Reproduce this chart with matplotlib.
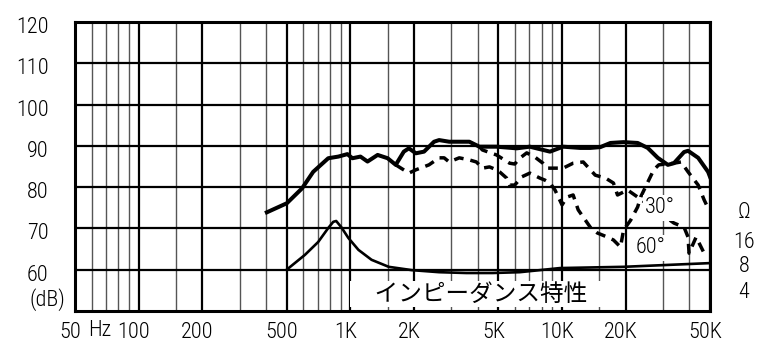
import matplotlib
matplotlib.use("Agg")
from matplotlib import pyplot as plt
from matplotlib import transforms, font_manager
from matplotlib.ticker import NullFormatter

installed = set(f.name for f in font_manager.fontManager.ttflist)
narrow = [n for n in ['Arial Narrow', 'Liberation Sans Narrow', 'Roboto Condensed',
                      'Archivo Narrow', 'PT Sans Narrow', 'Asap Condensed', 'Liberation Sans']
          if n in installed]
plt.rcParams['font.family'] = narrow[:1] + ['DejaVu Sans']
plt.rcParams['font.weight'] = 'light'

# on-axis response (solid)
freq_0 = [403, 501, 591, 667, 786, 877, 968, 1022, 1116, 1205, 1345, 1500, 1638,
          1788, 1889, 2040, 2228, 2485, 2625, 2929, 3647, 4070, 4900, 6105, 7045,
          8770, 10115, 12180, 13590, 15170, 16930, 19520, 22760, 25400, 28330,
          31620, 33770, 37700, 39380, 43970, 48980, 50000]
db_0 = [73.9, 76.1, 79.7, 83.7, 87.0, 87.4, 88.0, 87.0, 87.4, 86.2, 87.8, 87.0, 85.4,
        88.6, 89.4, 88.2, 88.6, 91.0, 91.4, 91.0, 91.0, 89.8, 89.8, 89.4, 89.8,
        88.6, 89.8, 89.5, 89.5, 89.7, 90.7, 90.9, 90.7, 89.5, 87.1,
        85.4, 85.8, 88.5, 88.8, 87.1, 83.7, 82.5]

# 30 deg response (dashed)
freq_30 = [4070, 4206, 4900, 5654, 5975, 6310, 6810, 7435, 8120, 8490, 9465, 10115,
           11280, 12590, 14350, 16030, 17490, 18280, 20400, 22760, 33770, 37700,
           39380, 39810, 42990, 46920]
db_30 = [89.8, 89.0, 87.8, 85.8, 85.6, 87.0, 88.3, 87.3, 85.8, 84.6, 84.6, 84.6,
         85.8, 86.1, 82.9, 82.2, 81.0, 78.1, 79.3, 77.6, 71.3, 70.3,
         67.9, 64.0, 67.9, 64.0]

# 60 deg response (dashed)
freq_60 = [1638, 1889, 2040, 2351, 2625, 2773, 2929, 3268, 3647, 3938, 4206, 4542,
           4900, 5070, 5470, 5654, 5975, 6453, 7045, 7853, 8300, 8770, 9262, 10000,
           10560, 11280, 11920, 13590, 14680, 16380, 17490, 18890, 19520, 21090,
           22760, 23510, 27110, 28640, 33770, 36490, 39380, 43970, 46920, 48980]
db_60 = [85.4, 83.4, 84.2, 85.4, 87.1, 87.1, 86.1, 87.1, 86.6, 86.1, 84.6, 84.9,
         84.2, 83.7, 82.2, 80.5, 80.5, 82.5, 83.4, 82.2, 81.7, 81.0, 79.3, 75.7,
         77.6, 78.1, 74.5, 70.3, 68.9, 67.9, 67.2, 65.5, 69.6, 72.0,
         75.2, 77.6, 84.2, 85.4, 85.8, 86.1, 83.7, 80.5, 76.9, 74.9]

# impedance curve (plotted on the dB scale)
freq_imp = [500, 610, 704, 786, 830, 857, 906, 978, 1092, 1259, 1517, 1951, 2625,
            3530, 4690, 6310, 9780, 19520, 50000]
db_imp = [60.0, 63.6, 66.7, 70.1, 71.6, 71.8, 70.3, 67.7, 64.8, 62.4, 60.7, 59.9, 59.4,
          59.2, 59.2, 59.4, 60.4, 60.7, 61.6]

x_major = [50, 100, 200, 500, 1000, 2000, 5000, 10000, 20000, 50000]
x_labels = ['50', '100', '200', '500', '1K', '2K', '5K', '10K', '20K', '50K']
x_minor = [60, 70, 80, 90, 150, 300, 400, 600, 700, 800, 900, 1500, 3000, 4000,
           6000, 7000, 8000, 9000, 15000, 30000, 40000]
y_ticks = [60, 70, 80, 90, 100, 110, 120]
ohm_labels = ['Ω', '16', '8', '4']

fig = plt.figure(figsize=(7.72, 3.52), dpi=100)
ax = fig.add_axes([75 / 772, 41 / 352, 635 / 772, 289 / 352])
ax.set_xscale('log')
ax.set_xlim(50, 50000)
ax.set_ylim(50, 120)

ax.set_xticks(x_major)
ax.set_xticklabels(x_labels)
ax.set_xticks(x_minor, minor=True)
ax.xaxis.set_minor_formatter(NullFormatter())
ax.set_yticks(y_ticks)
ax.set_yticklabels([str(v) for v in y_ticks])
ax.tick_params(which='both', length=0)
ax.tick_params(axis='x', labelsize=16, pad=8)
ax.tick_params(axis='y', labelsize=16, pad=19)

ax.grid(True, which='major', axis='x', color='black', lw=1.6)
ax.grid(True, which='minor', axis='x', color='#555555', lw=1.0)
ax.grid(True, which='major', axis='y', color='black', lw=1.6)
ax.set_axisbelow(True)
for s in ax.spines.values():
    s.set_linewidth(2.2)

shift_x = transforms.ScaledTranslation(-5 / 100, 0, fig.dpi_scale_trans)
for lab in ax.get_xticklabels():
    lab.set_transform(lab.get_transform() + shift_x)
shift_y = transforms.ScaledTranslation(0, -3 / 100, fig.dpi_scale_trans)
for lab in ax.get_yticklabels():
    lab.set_transform(lab.get_transform() + shift_y)

dash = (0, (2.8, 2.0))
ax.plot(freq_0, db_0, color='black', lw=2.9, solid_joinstyle='round', zorder=4)
ax.plot(freq_30, db_30, color='black', lw=2.5, linestyle=dash, zorder=3)
ax.plot(freq_60, db_60, color='black', lw=2.5, linestyle=dash, zorder=3)
ax.plot(freq_imp, db_imp, color='black', lw=1.9, zorder=3)

fig.text(100 / 772, 1 - 330 / 352, 'Hz', ha='center', va='center', fontsize=16)
fig.text(47 / 772, 1 - 300 / 352, '(dB)', ha='center', va='center', fontsize=16)

ax.text(4400, 54.1, '\u3000インピーダンス特性\u3000  ', ha='center', va='center', fontsize=17,
        family=['Noto Sans CJK JP', 'DejaVu Sans'], fontweight='normal', zorder=5,
        bbox=dict(facecolor='white', edgecolor='none', boxstyle='square,pad=0.05'))
ax.text(29000, 75.0, '30°', ha='center', va='center', fontsize=16, zorder=5,
        bbox=dict(facecolor='white', edgecolor='none', boxstyle='square,pad=0.1'))
ax.text(26300, 65.3, '60°', ha='center', va='center', fontsize=16, zorder=2.5,
        bbox=dict(facecolor='white', edgecolor='none', boxstyle='square,pad=0.1'))

ohm_y = [212, 243, 267, 293]
for lab, yp in zip(ohm_labels, ohm_y):
    fig.text(744 / 772, 1 - yp / 352, lab, ha='center', va='center', fontsize=16)

fig.savefig('out.png', dpi=100)
